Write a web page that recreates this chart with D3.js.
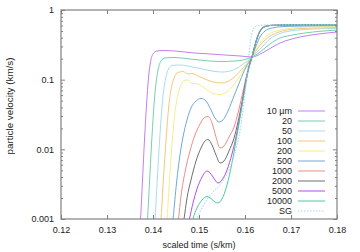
<!DOCTYPE html>
<html><head><meta charset="utf-8">
<script src="https://cdn.jsdelivr.net/npm/d3@7"></script>
<style>
html,body{margin:0;padding:0;background:#fff;}
svg{display:block;}
text{font-family:"Liberation Sans",Arial,sans-serif;font-size:9px;fill:#222;}
</style></head>
<body>
<script>
// ---- data ----
const categories = ["10 µm","20","50","100","200","500","1000","2000","5000","10000","SG"];
const colors = ["#c27ff0","#72d2ac","#a9dcf2","#f7c77a","#f6ee8a","#6fa9d9","#f38a86","#6e6e6e","#b150e6","#4fc99b","#9fd6f0"];
const xTicks = [0.12,0.13,0.14,0.15,0.16,0.17,0.18];
const yTicks = [0.001,0.01,0.1,1];
const yTickLabels = ["0.001","0.01","0.1","1"];

const s10 = [[0.13674,0.00059],[0.13728,0.001],[0.13772,0.00363],[0.13815,0.0136],[0.13859,0.0433],[0.13902,0.1056],[0.13946,0.179],[0.14000,0.234],[0.14087,0.258],[0.14261,0.262],[0.14587,0.254],[0.14913,0.241],[0.15239,0.234],[0.15565,0.226],[0.15891,0.219],[0.16152,0.2115],[0.16370,0.241],[0.16543,0.280],[0.16761,0.336],[0.16978,0.377],[0.17196,0.410],[0.17522,0.445],[0.18,0.483]];
const s20 = [[0.13826,0.00059],[0.13880,0.001],[0.13924,0.0034],[0.13967,0.01154],[0.14011,0.0344],[0.14054,0.0759],[0.14109,0.1376],[0.14174,0.185],[0.14261,0.205],[0.14478,0.208],[0.14804,0.198],[0.15130,0.188],[0.15457,0.182],[0.15783,0.185],[0.16000,0.195],[0.16152,0.2115],[0.16326,0.249],[0.16543,0.325],[0.16761,0.396],[0.16978,0.4305],[0.17304,0.468],[0.17630,0.4945],[0.18,0.516]];
const s50 = [[0.13978,0.00059],[0.14043,0.001],[0.14087,0.00318],[0.14130,0.00978],[0.14174,0.0264],[0.14217,0.0583],[0.14272,0.1022],[0.14337,0.1422],[0.14413,0.1598],[0.14587,0.1624],[0.14804,0.1545],[0.15022,0.1446],[0.15283,0.1332],[0.15500,0.1288],[0.15717,0.1354],[0.15935,0.1624],[0.16152,0.2115],[0.16326,0.275],[0.16543,0.3836],[0.16761,0.460],[0.16978,0.499],[0.17304,0.525],[0.17630,0.537],[0.18,0.543]];
const s100 = [[0.14109,0.00059],[0.14174,0.001],[0.14217,0.00298],[0.14261,0.00829],[0.14304,0.0209],[0.14348,0.0447],[0.14402,0.0784],[0.14467,0.1092],[0.14543,0.1267],[0.14652,0.131],[0.14761,0.1206],[0.14848,0.1226],[0.14978,0.1129],[0.15130,0.1022],[0.15304,0.0926],[0.15500,0.0896],[0.15717,0.1022],[0.15935,0.1422],[0.16152,0.2115],[0.16283,0.285],[0.16435,0.371],[0.16587,0.438],[0.16761,0.488],[0.17087,0.534],[0.17522,0.551],[0.18,0.561]];
const s200 = [[0.14239,0.00059],[0.14304,0.001],[0.14348,0.00279],[0.14391,0.00751],[0.14435,0.0177],[0.14478,0.0344],[0.14543,0.0602],[0.14609,0.0838],[0.14674,0.0973],[0.14761,0.0989],[0.14848,0.0881],[0.14935,0.0881],[0.15022,0.0838],[0.15152,0.0735],[0.15304,0.0633],[0.15457,0.0612],[0.15630,0.0688],[0.15804,0.0926],[0.15978,0.1422],[0.16152,0.2115],[0.16283,0.304],[0.16435,0.403],[0.16587,0.475],[0.16761,0.516],[0.17087,0.555],[0.17522,0.574],[0.18,0.583]];
const s500 = [[0.14370,0.00059],[0.14435,0.001],[0.14500,0.00279],[0.14565,0.00658],[0.14652,0.0150],[0.14739,0.0264],[0.14826,0.0392],[0.14935,0.0494],[0.15043,0.0537],[0.15152,0.0494],[0.15261,0.0367],[0.15348,0.0282],[0.15435,0.0247],[0.15522,0.0264],[0.15630,0.0355],[0.15761,0.0583],[0.15891,0.0957],[0.16022,0.152],[0.16152,0.2115],[0.16239,0.304],[0.16326,0.410],[0.16435,0.499],[0.16587,0.551],[0.16870,0.580],[0.17304,0.589],[0.18,0.599]];
const s1000 = [[0.14500,0.00059],[0.14554,0.001],[0.14609,0.00214],[0.14696,0.00473],[0.14804,0.00946],[0.14913,0.0161],[0.15022,0.0231],[0.15109,0.0282],[0.15196,0.0296],[0.15283,0.0239],[0.15370,0.0150],[0.15457,0.01045],[0.15543,0.01116],[0.15652,0.0150],[0.15761,0.0209],[0.15848,0.0332],[0.15935,0.0583],[0.16022,0.1056],[0.16087,0.1571],[0.16152,0.2115],[0.16217,0.314],[0.16283,0.423],[0.16348,0.516],[0.16435,0.574],[0.16587,0.599],[0.16978,0.609],[0.18,0.613]];
const s2000 = [[0.14609,0.00059],[0.14674,0.001],[0.14739,0.0020],[0.14826,0.00363],[0.14935,0.0068],[0.15043,0.01045],[0.15130,0.01317],[0.15196,0.01384],[0.15283,0.01154],[0.15370,0.00829],[0.15457,0.00637],[0.15543,0.0068],[0.15652,0.00946],[0.15761,0.0145],[0.15848,0.0247],[0.15935,0.0478],[0.16022,0.0989],[0.16087,0.152],[0.16152,0.2115],[0.16217,0.314],[0.16283,0.4305],[0.16348,0.525],[0.16435,0.580],[0.16587,0.603],[0.16978,0.611],[0.18,0.615]];
const s5000 = [[0.14717,0.00059],[0.14793,0.001],[0.14870,0.0017],[0.14957,0.0027],[0.15065,0.0040],[0.15174,0.00489],[0.15261,0.00442],[0.15348,0.00363],[0.15413,0.00329],[0.15500,0.00363],[0.15609,0.00505],[0.15717,0.00857],[0.15826,0.0177],[0.15913,0.0367],[0.16000,0.0784],[0.16076,0.147],[0.16152,0.2115],[0.16217,0.314],[0.16283,0.4305],[0.16348,0.525],[0.16435,0.580],[0.16587,0.603],[0.16978,0.611],[0.18,0.615]];
const s10000 = [[0.14804,0.00059],[0.14870,0.001],[0.14957,0.00144],[0.15065,0.00187],[0.15174,0.0021],[0.15261,0.00197],[0.15348,0.00175],[0.15413,0.0017],[0.15500,0.00194],[0.15609,0.00308],[0.15717,0.00637],[0.15804,0.01317],[0.15891,0.0282],[0.15978,0.0623],[0.16065,0.1288],[0.16152,0.2115],[0.16217,0.314],[0.16283,0.4305],[0.16348,0.525],[0.16435,0.580],[0.16587,0.603],[0.16978,0.611],[0.18,0.615]];
const sSG = [[0.14870,0.00059],[0.14957,0.001],[0.15065,0.00144],[0.15196,0.0020],[0.15326,0.00252],[0.15457,0.00308],[0.15587,0.00414],[0.15717,0.00658],[0.15826,0.01154],[0.15913,0.0223],[0.15978,0.0478],[0.16033,0.0989],[0.16076,0.1915],[0.16109,0.314],[0.16141,0.438],[0.16196,0.551],[0.16283,0.599],[0.16435,0.609],[0.18,0.613]];
const seriesData = [s10,s20,s50,s100,s200,s500,s1000,s2000,s5000,s10000,sSG];

// ---- layout ----
const W = 360, H = 252;
const m = {left:61, right:23, top:10, bottom:33};
const iw = W - m.left - m.right, ih = H - m.top - m.bottom;

const svg = d3.select("body").append("svg").attr("width",W).attr("height",H);
const x = d3.scaleLinear().domain([0.12,0.18]).range([m.left, m.left+iw]);
const y = d3.scaleLog().domain([0.001,1]).range([m.top+ih, m.top]);

svg.append("defs").append("clipPath").attr("id","clip")
  .append("rect").attr("x",m.left).attr("y",m.top).attr("width",iw).attr("height",ih);

// curves
const line = d3.line().x(d=>x(d[0])).y(d=>y(d[1])).curve(d3.curveMonotoneX);
const g = svg.append("g").attr("clip-path","url(#clip)");
seriesData.forEach((s,i)=>{
  g.append("path").datum(s).attr("d",line)
    .attr("fill","none").attr("stroke",colors[i]).attr("stroke-width",1)
    .attr("stroke-dasharray", categories[i]==="SG" ? "1.5,1.5" : null);
});

// axes (ticks inward, mirrored)
const axisColor = "#808080";
const tl = 4, mtl = 2;
function styleAxis(sel){
  sel.select(".domain").remove();
  sel.selectAll("line").attr("stroke",axisColor).attr("stroke-width",1);
  sel.selectAll("text").style("font-family",'"Liberation Sans",Arial,sans-serif').style("font-size","9px").attr("fill","#222");
}
const xb = svg.append("g").attr("transform",`translate(0,${m.top+ih})`)
  .call(d3.axisBottom(x).tickValues(xTicks).tickFormat(d3.format(".2f")).tickSizeInner(-tl).tickSizeOuter(0).tickPadding(8));
styleAxis(xb);
const xt = svg.append("g").attr("transform",`translate(0,${m.top})`)
  .call(d3.axisTop(x).tickValues(xTicks).tickFormat("").tickSizeInner(-tl).tickSizeOuter(0));
styleAxis(xt);

const yl = svg.append("g").attr("transform",`translate(${m.left},0)`)
  .call(d3.axisLeft(y).tickValues(yTicks).tickFormat((d,i)=>yTickLabels[i]).tickSizeInner(-tl).tickSizeOuter(0).tickPadding(7));
styleAxis(yl);
const yr = svg.append("g").attr("transform",`translate(${m.left+iw},0)`)
  .call(d3.axisRight(y).tickValues(yTicks).tickFormat("").tickSizeInner(-tl).tickSizeOuter(0));
styleAxis(yr);

// minor log ticks
const minor = [];
[0.001,0.01,0.1].forEach(dec=>{ for(let k=2;k<=9;k++) minor.push(dec*k); });
const ylm = svg.append("g").attr("transform",`translate(${m.left},0)`)
  .call(d3.axisLeft(y).tickValues(minor).tickFormat("").tickSizeInner(-mtl).tickSizeOuter(0));
styleAxis(ylm);
const yrm = svg.append("g").attr("transform",`translate(${m.left+iw},0)`)
  .call(d3.axisRight(y).tickValues(minor).tickFormat("").tickSizeInner(-mtl).tickSizeOuter(0));
styleAxis(yrm);

// frame
svg.append("rect").attr("x",m.left).attr("y",m.top).attr("width",iw).attr("height",ih)
  .attr("fill","none").attr("stroke",axisColor).attr("stroke-width",1.2);

// axis titles
svg.append("text").attr("x",m.left+iw/2).attr("y",H-4).attr("text-anchor","middle").text("scaled time (s/km)");
svg.append("text").attr("transform",`translate(13,106) rotate(-90)`).attr("text-anchor","middle")
  .style("font-size","9.8px").text("particle velocity (km/s)");

// legend
const lx = 292, ly0 = 111, lstep = 10;
categories.forEach((c,i)=>{
  const yy = ly0 + i*lstep;
  svg.append("text").attr("x",lx).attr("y",yy+3.2).attr("text-anchor","end").text(c);
  svg.append("line").attr("x1",298).attr("x2",325).attr("y1",yy).attr("y2",yy)
    .attr("stroke",colors[i]).attr("stroke-width",1)
    .attr("stroke-dasharray", c==="SG" ? "1.5,1.5" : null);
});
</script>
</body></html>
